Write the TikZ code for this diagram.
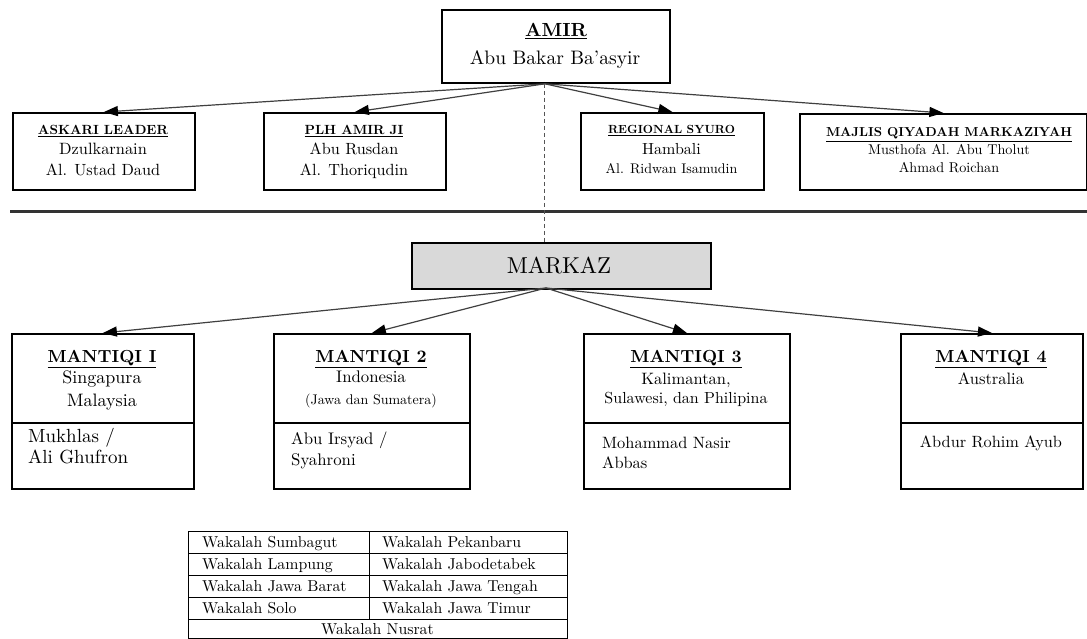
\documentclass[tikz,border=0pt]{standalone}
\usepackage{fontspec}
\setmainfont{lmroman10}[Extension=.otf, UprightFont=*-regular, BoldFont=*-bold, ItalicFont=*-italic, BoldItalicFont=*-bolditalic]
\usetikzlibrary{arrows.meta,calc}
\definecolor{linegray}{HTML}{404040}
\definecolor{dashgray}{HTML}{555555}
\definecolor{rulegray}{HTML}{333333}
\definecolor{markazfill}{HTML}{D9D9D9}
\newcommand{\fsz}[1]{\fontsize{#1}{#1}\selectfont}
\begin{document}
\begin{tikzpicture}[x=1pt,y=-1pt,
  box/.style={draw=black, line width=1.8pt, rectangle, inner sep=0pt, anchor=north west},
  cellbox/.style={draw=black, line width=0.9pt, rectangle, inner sep=0pt, anchor=north west},
  conn/.style={draw=linegray, line width=1.2pt, -{Triangle[length=14pt,width=10pt,color=black]}},
  dashconn/.style={draw=dashgray, line width=1pt, dash pattern=on 4pt off 3pt},
  txt/.style={inner sep=0pt, anchor=base},
  ltxt/.style={inner sep=0pt, anchor=base west},
]
\useasboundingbox (0,0) rectangle (1087,639);

% ---------- AMIR ----------
\node[box, minimum width=228, minimum height=73] (amir) at (441,9) {};
\node[txt, font=\fsz{19}\bfseries] (amirt) at (556,37) {\underline{AMIR}};
\node[txt, font=\fsz{19.5}] (amirn) at (555,65) {Abu Bakar Ba’asyir};
\coordinate (amirhub) at ($(amir.south)+(-11,0)$);

% ---------- top row ----------
\node[box, minimum width=182, minimum height=77] (askari) at (12,112) {};
\node[txt, font=\fsz{13.3}\bfseries] (askarit) at (103,135) {\underline{ASKARI LEADER}};
\node[txt, font=\fsz{16.4}] (askari1) at (103,155) {Dzulkarnain};
\node[txt, font=\fsz{16.2}] (askari2) at (103,176) {Al. Ustad Daud};

\node[box, minimum width=182, minimum height=77] (plh) at (263,112) {};
\node[txt, font=\fsz{13.3}\bfseries] (plht) at (354,135) {\underline{PLH AMIR JI}};
\node[txt, font=\fsz{16.2}] (plh1) at (354,155) {Abu Rusdan};
\node[txt, font=\fsz{16.2}] (plh2) at (354,176) {Al. Thoriqudin};

\node[box, minimum width=183, minimum height=77] (reg) at (580,112) {};
\node[txt, font=\fsz{11.8}\bfseries] (regt) at (671.5,134) {\underline{REGIONAL SYURO}};
\node[txt, font=\fsz{16}] (reg1) at (671.5,155) {Hambali};
\node[txt, font=\fsz{14}] (reg2) at (671.5,174) {Al. Ridwan Isamudin};

\node[box, minimum width=287, minimum height=76] (majlis) at (799,113) {};
\node[txt, font=\fsz{13}\bfseries] (majlist) at (949,137) {\underline{MAJLIS QIYADAH MARKAZIYAH}};
\node[txt, font=\fsz{14.2}] (majlis1) at (949,155) {Musthofa Al. Abu Tholut};
\node[txt, font=\fsz{14.2}] (majlis2) at (949,173) {Ahmad Roichan};

\draw[conn] (amirhub) -- (askari.north);
\draw[conn] (amirhub) -- (plh.north);
\draw[conn] (amirhub) -- (reg.north);
\draw[conn] (amirhub) -- (majlis.north);

% ---------- separator ----------
\coordinate (ruleL) at (10,211.5);
\coordinate (ruleR) at (1087,211.5);
\draw[rulegray, line width=2.4pt] (ruleL) -- (ruleR);

% ---------- MARKAZ ----------
\node[box, fill=markazfill, minimum width=299, minimum height=46] (markaz) at (411,242) {};
\node[txt, font=\fsz{23}] (markazt) at (559,273) {MARKAZ};
\coordinate (markazhub) at (546,288);
\draw[dashconn] (amirhub) -- (amirhub |- markaz.north);

% ---------- MANTIQI ----------
\node[box, minimum width=182, minimum height=89] (m1top) at (11,333) {};
\node[box, minimum width=182, minimum height=66] (m1bot) at (11,422) {};
\node[txt, font=\fsz{17.5}\bfseries] (m1t) at (102,362) {\underline{MANTIQI I}};
\node[txt, font=\fsz{18}] (m1a) at (102,383) {Singapura};
\node[txt, font=\fsz{18}] (m1b) at (102,406) {Malaysia};
\node[ltxt, font=\fsz{19}] (m1c) at (28,442) {Mukhlas /};
\node[ltxt, font=\fsz{19}] (m1d) at (28,463) {Ali Ghufron};

\node[box, minimum width=196, minimum height=89] (m2top) at (273,333) {};
\node[box, minimum width=196, minimum height=66] (m2bot) at (273,422) {};
\node[txt, font=\fsz{17.5}\bfseries] (m2t) at (371,362) {\underline{MANTIQI 2}};
\node[txt, font=\fsz{16.8}] (m2a) at (371,382) {Indonesia};
\node[txt, font=\fsz{14}] (m2b) at (371,404) {(Jawa dan Sumatera)};
\node[ltxt, font=\fsz{16.8}] (m2c) at (291,444) {Abu Irsyad /};
\node[ltxt, font=\fsz{16.8}] (m2d) at (291,465) {Syahroni};

\node[box, minimum width=206, minimum height=89] (m3top) at (583,333) {};
\node[box, minimum width=206, minimum height=66] (m3bot) at (583,422) {};
\node[txt, font=\fsz{17.5}\bfseries] (m3t) at (686,362) {\underline{MANTIQI 3}};
\node[txt, font=\fsz{16.5}] (m3a) at (686,384) {Kalimantan,};
\node[txt, font=\fsz{16}] (m3b) at (686,403) {Sulawesi, dan Philipina};
\node[ltxt, font=\fsz{16.4}] (m3c) at (602,448) {Mohammad Nasir};
\node[ltxt, font=\fsz{16.4}] (m3d) at (602,468) {Abbas};

\node[box, minimum width=182, minimum height=89] (m4top) at (900,333) {};
\node[box, minimum width=182, minimum height=66] (m4bot) at (900,422) {};
\node[txt, font=\fsz{17.5}\bfseries] (m4t) at (991,362) {\underline{MANTIQI 4}};
\node[txt, font=\fsz{16.5}] (m4a) at (991,384) {Australia};
\node[txt, font=\fsz{16.3}] (m4c) at (991,447) {Abdur Rohim Ayub};

\draw[conn] (markazhub) -- (m1top.north);
\draw[conn] (markazhub) -- (m2top.north);
\draw[conn] (markazhub) -- (m3top.north);
\draw[conn] (markazhub) -- (m4top.north);

% ---------- Wakalah table ----------
\node[cellbox, minimum width=379, minimum height=107] (wtable) at (188,531) {};
\draw[dashconn] ($(m2bot.south)+(-2,0)$) -- ($(m2bot.south)+(-2,0)$ |- wtable.north);
\foreach \i/\l/\r in {0/Wakalah Sumbagut/Wakalah Pekanbaru,
                      1/Wakalah Lampung/Wakalah Jabodetabek,
                      2/Wakalah Jawa Barat/Wakalah Jawa Tengah,
                      3/Wakalah Solo/Wakalah Jawa Timur}{
  \node[cellbox, minimum width=181, minimum height=22] (cl\i) at (188,531+22*\i) {};
  \node[cellbox, minimum width=198, minimum height=22] (cr\i) at (369,531+22*\i) {};
  \node[ltxt, font=\fsz{15.8}] (tl\i) at ($(cl\i.north west)+(14,16)$) {\l};
  \node[ltxt, font=\fsz{15.8}] (tr\i) at ($(cr\i.north west)+(13,16)$) {\r};
}
\node[txt, font=\fsz{15.8}] (nusrat) at (377.5,634) {Wakalah Nusrat};
\end{tikzpicture}
\end{document}
